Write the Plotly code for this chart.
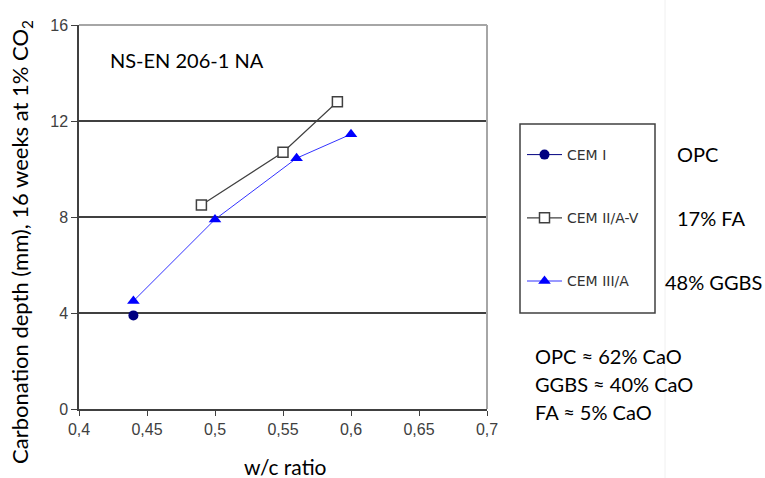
import plotly.graph_objects as go

# Data
cem1_x = [0.44]
cem1_y = [3.9]
cem2_x = [0.49, 0.55, 0.59]
cem2_y = [8.5, 10.7, 12.8]
cem3_x = [0.44, 0.50, 0.56, 0.60]
cem3_y = [4.5, 7.9, 10.45, 11.45]

series_names = ["CEM I", "CEM II/A-V", "CEM III/A"]
side_labels = ["OPC", "17% FA", "48% GGBS"]
cao_notes = ["OPC \u2248 62% CaO", "GGBS \u2248 40% CaO", "FA \u2248 5% CaO"]
x_ticks = [0.4, 0.45, 0.5, 0.55, 0.6, 0.65, 0.7]
y_ticks = [0, 4, 8, 12, 16]

TXT = "Lato"
AX = "Liberation Sans"

fig = go.Figure()
fig.add_trace(go.Scatter(
    x=cem1_x, y=cem1_y, name=series_names[0], mode="lines+markers",
    line=dict(color="#000080", width=1),
    marker=dict(symbol="circle", size=10, color="#000080"),
    legendgroup="a"))
fig.add_trace(go.Scatter(
    x=cem2_x, y=cem2_y, name=series_names[1], mode="lines+markers",
    line=dict(color="#404040", width=1.2),
    marker=dict(symbol="square", size=10, color="white",
                line=dict(color="#404040", width=1.5)),
    legendgroup="b"))
fig.add_trace(go.Scatter(
    x=cem3_x, y=cem3_y, name=series_names[2], mode="lines+markers",
    line=dict(color="#3333FF", width=1),
    marker=dict(symbol="triangle-up", size=11, color="#0000FF"),
    legendgroup="c"))

L, R, T, B = 79, 278, 25, 69
W, H = 765, 478
pw = W - L - R
ph = H - T - B


def px_x(p):
    return (p - L) / pw


def px_y(p):
    return (H - B - p) / ph


annotations = [
    dict(x=px_x(108), y=px_y(60), text="NS-EN 206-1 NA", xanchor="left",
         yanchor="middle", font=dict(family=TXT, size=20, color="black")),
    dict(x=px_x(21), y=px_y(242), text="Carbonation depth (mm), 16 weeks at 1% CO<sub>2</sub>",
         textangle=-90, xanchor="center", yanchor="middle",
         font=dict(family=TXT, size=22, color="black")),
    dict(x=px_x(285), y=px_y(466), text="w/c ratio", xanchor="center",
         yanchor="middle", font=dict(family=TXT, size=21, color="black")),
]
side_pos = [(675, 154), (675, 218), (663, 282)]
for t, (xx, yy) in zip(side_labels, side_pos):
    annotations.append(dict(x=px_x(xx), y=px_y(yy), text=t, xanchor="left",
                            yanchor="middle",
                            font=dict(family=TXT, size=20, color="black")))
for t, yy in zip(cao_notes, [356, 384, 412]):
    annotations.append(dict(x=px_x(533), y=px_y(yy), text=t, xanchor="left",
                            yanchor="middle",
                            font=dict(family=TXT, size=20, color="black")))
for a in annotations:
    a.update(xref="paper", yref="paper", showarrow=False)

shapes = [
    dict(type="line", xref="paper", yref="paper", x0=0, x1=1, y0=1, y1=1,
         line=dict(color="#a6a6a6", width=2), layer="above"),
    dict(type="line", xref="paper", yref="paper", x0=1, x1=1, y0=0, y1=1,
         line=dict(color="#a6a6a6", width=2), layer="above"),
    dict(type="line", xref="paper", yref="paper", x0=px_x(665), x1=px_x(665),
         y0=px_y(478), y1=px_y(0), line=dict(color="#f0f0f0", width=1)),
    dict(type="rect", xref="paper", yref="paper", x0=px_x(520), x1=px_x(655),
         y0=px_y(313), y1=px_y(124), line=dict(color="#404040", width=1.5),
         fillcolor="rgba(0,0,0,0)"),
]

fig.update_layout(
    width=W, height=H,
    margin=dict(l=L, r=R, t=T, b=B),
    paper_bgcolor="white", plot_bgcolor="white",
    separators=", ",
    annotations=annotations, shapes=shapes,
    legend=dict(x=px_x(522), y=px_y(139), xanchor="left", yanchor="top",
                borderwidth=0, bgcolor="rgba(0,0,0,0)",
                font=dict(family="DejaVu Sans", size=14, color="#333333"),
                tracegroupgap=42, itemwidth=35),
    showlegend=True,
)
fig.update_xaxes(range=[0.4, 0.7], tickvals=x_ticks, showgrid=False,
                 showline=True, linecolor="#404040", linewidth=1.5,
                 ticks="outside", ticklen=5, tickcolor="#404040",
                 tickfont=dict(family=AX, size=16, color="#404040"),
                 zeroline=False)
fig.update_yaxes(range=[0, 16], tickvals=y_ticks, showgrid=True,
                 gridcolor="#404040", gridwidth=1.5,
                 showline=True, linecolor="#404040", linewidth=1.5,
                 ticks="outside", ticklen=6, tickcolor="#404040",
                 tickfont=dict(family=AX, size=16, color="#404040"),
                 zeroline=False)

fig.write_html("out.html")
